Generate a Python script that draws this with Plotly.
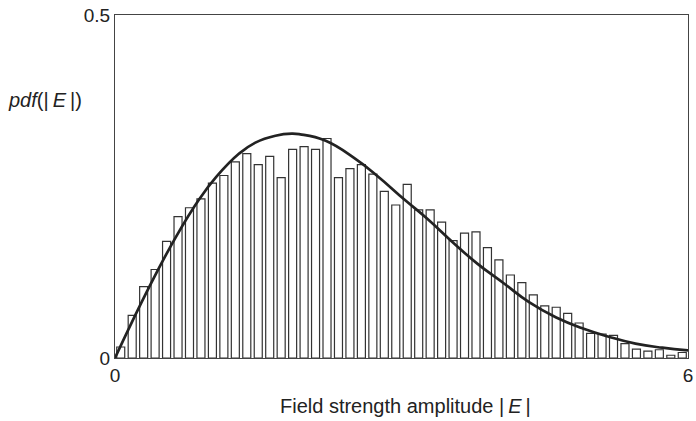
import plotly.graph_objects as go

# histogram: 50 bins of width 0.12 between 0 and 6
bin_width = 0.12
bar_heights = [0.016, 0.062, 0.104, 0.129, 0.170, 0.206, 0.219, 0.232, 0.255, 0.266,
               0.286, 0.298, 0.282, 0.294, 0.263, 0.304, 0.308, 0.304, 0.320, 0.263,
               0.276, 0.282, 0.268, 0.243, 0.223, 0.253, 0.216, 0.216, 0.198, 0.171,
               0.182, 0.184, 0.161, 0.143, 0.121, 0.110, 0.092, 0.076, 0.074, 0.065,
               0.051, 0.036, 0.035, 0.033, 0.021, 0.013, 0.010, 0.012, 0.004, 0.008]
bin_centres = [bin_width * (i + 0.5) for i in range(len(bar_heights))]

# fitted curve
curve_x = [0.0, 0.36, 0.64, 0.88, 1.06, 1.30, 1.47, 1.68, 1.85, 1.94, 2.20, 2.51,
           2.75, 3.03, 3.27, 3.55, 3.79, 4.07, 4.34, 4.62, 4.90, 5.17, 5.45, 5.73, 6.0]
curve_y = [0.0, 0.104, 0.177, 0.231, 0.264, 0.298, 0.314, 0.324, 0.327, 0.326, 0.317,
           0.291, 0.265, 0.231, 0.203, 0.167, 0.138, 0.109, 0.081, 0.059, 0.043,
           0.031, 0.021, 0.015, 0.011]

font = dict(family="Liberation Sans, Arial, sans-serif", size=19, color="#222")
title_font = dict(family="Liberation Sans, Arial, sans-serif", size=20, color="#222")

fig = go.Figure()
fig.add_trace(go.Bar(x=bin_centres, y=bar_heights, width=bin_width * 0.7,
                     marker=dict(color="white", line=dict(color="#333", width=1.2))))
fig.add_trace(go.Scatter(x=curve_x, y=curve_y, mode="lines", line_shape="spline",
                         line=dict(color="#222", width=2.7, smoothing=1.3)))

fig.update_layout(
    width=696, height=421,
    margin=dict(l=115, r=3, t=15, b=63),
    plot_bgcolor="white", paper_bgcolor="white",
    showlegend=False, font=font,
    xaxis=dict(range=[0, 6], tickvals=[0, 6], ticktext=["0", "6"], showgrid=False,
               zeroline=False, showline=True, mirror=True, linecolor="#444", linewidth=1.3,
               ticks="", ticklabeloverflow="allow"),
    yaxis=dict(range=[0, 0.5], tickvals=[0, 0.5], ticktext=["0", "0.5"], showgrid=False,
               zeroline=False, showline=True, mirror=True, linecolor="#444", linewidth=1.3,
               ticks=""),
    annotations=[
        dict(text="<i>pdf</i>(|\u2009<i>E</i>\u2009|)", xref="paper", yref="paper",
             x=-0.19, y=0.752, xanchor="left", yanchor="middle",
             showarrow=False, font=title_font),
        dict(text="Field strength amplitude |\u2009<i>E</i>\u2009|", xref="paper", yref="paper",
             x=0.507, y=-0.14, xanchor="center", yanchor="middle",
             showarrow=False, font=title_font),
    ],
)

# the page body has a default margin; drop it so the figure sits at the top-left corner
fig.write_html("out.html", config={"displayModeBar": False},
               post_script="document.body.style.margin='0';")
